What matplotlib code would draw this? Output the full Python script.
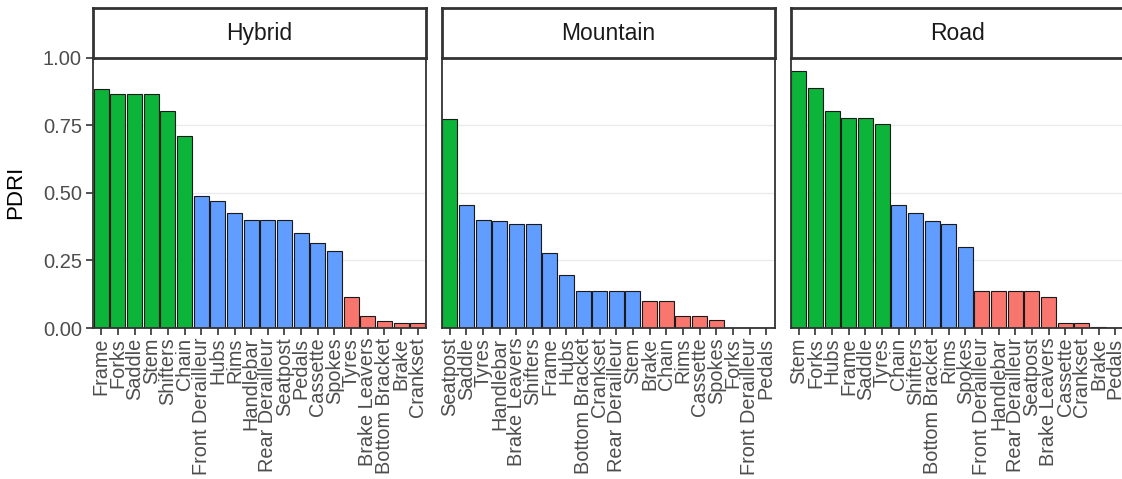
import matplotlib
matplotlib.use("Agg")
import matplotlib.pyplot as plt

plt.rcParams['font.family'] = ['Liberation Sans', 'DejaVu Sans']

facets = ["Hybrid", "Mountain", "Road"]

hybrid_parts = ["Frame", "Forks", "Saddle", "Stem", "Shifters", "Chain",
                "Front Derailleur", "Hubs", "Rims", "Handlebar", "Rear Derailleur",
                "Seatpost", "Pedals", "Cassette", "Spokes", "Tyres", "Brake Leavers",
                "Bottom Bracket", "Brake", "Crankset"]
hybrid_pdri = [0.886, 0.867, 0.867, 0.867, 0.802, 0.712,
               0.487, 0.468, 0.426, 0.401, 0.401,
               0.401, 0.352, 0.316, 0.286, 0.114, 0.046,
               0.026, 0.017, 0.017]
hybrid_class = ["High"] * 6 + ["Medium"] * 9 + ["Low"] * 5

mountain_parts = ["Seatpost", "Saddle", "Tyres", "Handlebar", "Brake Leavers",
                  "Shifters", "Frame", "Hubs", "Bottom Bracket", "Crankset",
                  "Rear Derailleur", "Stem", "Brake", "Chain", "Rims", "Cassette",
                  "Spokes", "Forks", "Front Derailleur", "Pedals"]
mountain_pdri = [0.774, 0.454, 0.401, 0.397, 0.384,
                 0.384, 0.279, 0.197, 0.138, 0.138,
                 0.138, 0.138, 0.100, 0.100, 0.046, 0.043,
                 0.030, 0.0, 0.0, 0.0]
mountain_class = ["High"] * 1 + ["Medium"] * 11 + ["Low"] * 8

road_parts = ["Stem", "Forks", "Hubs", "Frame", "Saddle", "Tyres", "Chain",
              "Shifters", "Bottom Bracket", "Rims", "Spokes", "Front Derailleur",
              "Handlebar", "Rear Derailleur", "Seatpost", "Brake Leavers",
              "Cassette", "Crankset", "Brake", "Pedals"]
road_pdri = [0.950, 0.887, 0.802, 0.776, 0.776, 0.756, 0.454,
             0.426, 0.397, 0.384, 0.301, 0.138,
             0.138, 0.138, 0.138, 0.114,
             0.019, 0.019, 0.004, 0.0]
road_class = ["High"] * 6 + ["Medium"] * 5 + ["Low"] * 9

class_colors = {"High": "#0CB43A", "Medium": "#619CFF", "Low": "#F8766D"}

y_ticks = [0.0, 0.25, 0.5, 0.75, 1.0]
y_ticklabels = ["0.00", "0.25", "0.50", "0.75", "1.00"]

data = [(hybrid_parts, hybrid_pdri, hybrid_class),
        (mountain_parts, mountain_pdri, mountain_class),
        (road_parts, road_pdri, road_class)]

W, H = 1122, 479
fig = plt.figure(figsize=(W / 100, H / 100), dpi=100)

panel_left = [93, 441.5, 790.5]
panel_w = 333
p_top, p_bot = 57.7, 328
s_top = 8.3
border_col = "#333333"
text_col = "#4D4D4D"

for i, (parts, vals, cls) in enumerate(data):
    l = panel_left[i]
    ax = fig.add_axes([l / W, 1 - p_bot / H, panel_w / W, (p_bot - p_top) / H])
    xs = list(range(len(parts)))
    ax.bar(xs, vals, width=0.9, color=[class_colors[c] for c in cls],
           edgecolor="#1a1a1a", linewidth=0.8, zorder=3)
    ax.set_xlim(-0.5, len(parts) - 0.5)
    ax.set_ylim(0, 1.0)
    ax.set_yticks(y_ticks)
    for y in y_ticks[1:]:
        ax.axhline(y, color="#EBEBEB", linewidth=1.0, zorder=1)
    ax.set_xticks(xs)
    ax.set_xticklabels(parts, rotation=90, ha="center", va="top",
                       fontsize=14.3, color=text_col)
    if i == 0:
        ax.set_yticklabels(y_ticklabels, fontsize=14.5, color=text_col)
        ax.set_ylabel("PDRI", fontsize=16, color="black", labelpad=12)
        ax.tick_params(axis="y", length=5, width=1.2, color=border_col, pad=3)
    else:
        ax.tick_params(axis="y", left=False, labelleft=False)
    ax.tick_params(axis="x", length=5, width=1.2, color=border_col, pad=2)
    for sp in ax.spines.values():
        sp.set_color(border_col)
        sp.set_linewidth(1.3)
        sp.set_zorder(4)

    sax = fig.add_axes([l / W, 1 - p_top / H, panel_w / W, (p_top - s_top) / H])
    sax.set_xticks([])
    sax.set_yticks([])
    sax.set_facecolor("white")
    for sp in sax.spines.values():
        sp.set_color(border_col)
        sp.set_linewidth(2.0)
    sax.text(0.5, 0.5, facets[i], ha="center", va="center", fontsize=16.5,
             color="#1a1a1a", transform=sax.transAxes)

fig.savefig("out.png", dpi=100)
